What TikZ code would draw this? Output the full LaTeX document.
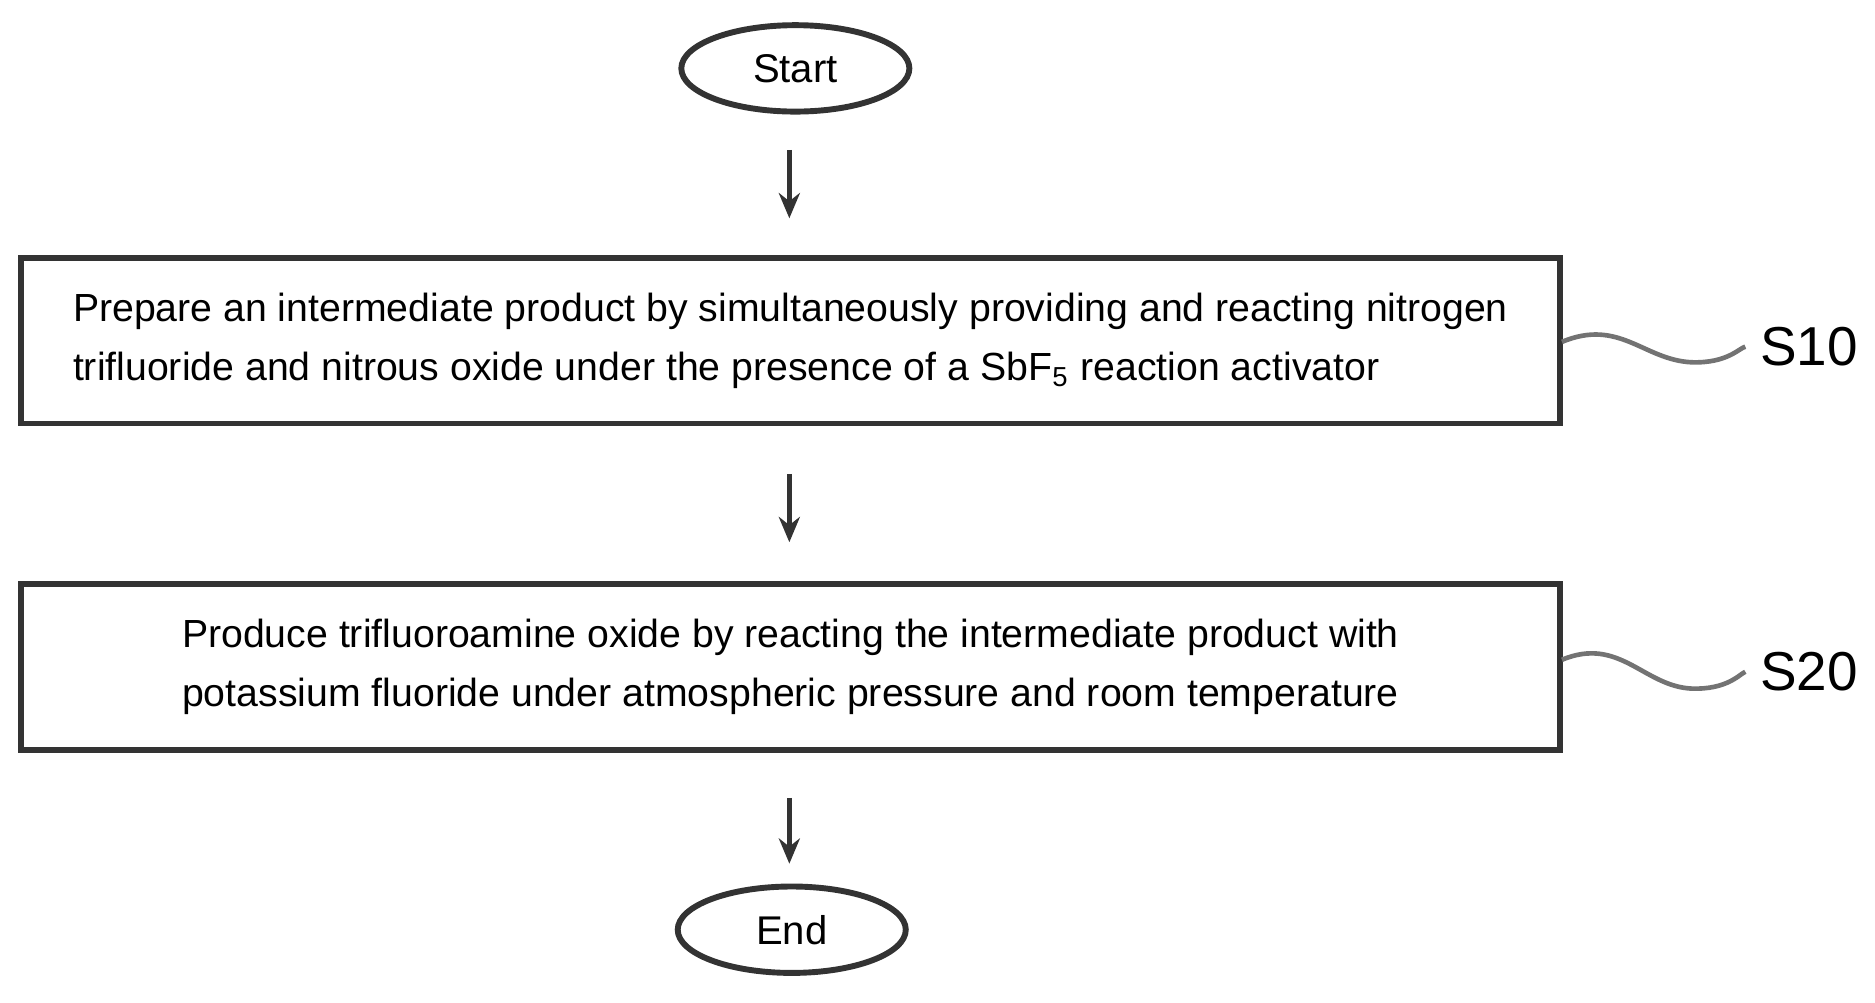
\documentclass[tikz,border=0pt]{standalone}
\usepackage{fontspec}
\setmainfont{Liberation Sans}
\usetikzlibrary{arrows.meta,shapes.geometric}
\begin{document}
\begin{tikzpicture}[x=0.01cm,y=-0.01cm,
  line/.style={draw=black!80,line width=1.4pt},
  term/.style={line,ellipse,minimum width=1.9cm,minimum height=0.72cm,font=\fontsize{9.5}{11}\selectfont},
  procbox/.style={line,rectangle,minimum width=12.82cm,minimum height=1.38cm,font=\fontsize{9.3}{14}\selectfont},
  arr/.style={draw=black!80,line width=1.2pt,-{Stealth[length=6pt,width=5pt]}},
  sq/.style={draw=black!55,line width=1.1pt},
  lab/.style={font=\fontsize{13}{15}\selectfont}]
\useasboundingbox (0,0) rectangle (1563,836);
\node[term] (start) at (663,57) {Start};
\node[procbox,align=left] (s10) at (659,284) {Prepare an intermediate product by simultaneously providing and reacting nitrogen\\trifluoride and nitrous oxide under the presence of a SbF\textsubscript{5} reaction activator};
\node[procbox,align=center] (s20) at (659,556) {Produce trifluoroamine oxide by reacting the intermediate product with\\potassium fluoride under atmospheric pressure and room temperature};
\node[term] (end) at (660,775) {End};
\coordinate (a1s) at (658,125); \coordinate (a1e) at (658,182);
\coordinate (a2s) at (658,395); \coordinate (a2e) at (658,452);
\coordinate (a3s) at (658,665); \coordinate (a3e) at (658,720);
\draw[arr] (a1s) -- (a1e);
\draw[arr] (a2s) -- (a2e);
\draw[arr] (a3s) -- (a3e);
\node[lab] (l10) at (1508,289) {S10};
\node[lab] (l20) at (1508,560) {S20};
\draw[sq] (1302,285) .. controls (1350,265) and (1370,300) .. (1410,302) .. controls (1440,303) and (1450,290) .. (l10.west);
\draw[sq] (1302,550) .. controls (1350,530) and (1370,572) .. (1410,574) .. controls (1440,575) and (1450,562) .. (l20.west);
\end{tikzpicture}
\end{document}
